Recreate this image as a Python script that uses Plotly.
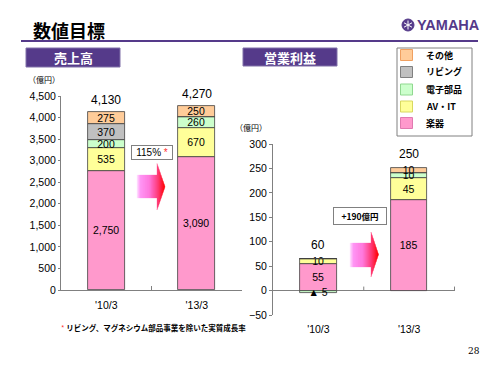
import plotly.graph_objects as go

W, H = 500, 375

# ---------------- data ----------------
categories = ["'10/3", "'13/3"]
segments = ["楽器", "AV・IT", "電子部品", "リビング", "その他"]

sales_gakki = [2750, 3090]
sales_avit = [535, 670]
sales_denshi = [200, 260]
sales_living = [370, 0]
sales_other = [275, 250]

op_gakki = [55, 185]
op_avit = [10, 45]
op_denshi = [-5, 10]
op_living = [0, 0]
op_other = [0, 10]

sales_ticks = [0, 500, 1000, 1500, 2000, 2500, 3000, 3500, 4000, 4500]
op_ticks = [-50, 0, 50, 100, 150, 200, 250, 300]

sales_growth_label = "115%"
op_growth_label = "+190億円"
footnote = "リビング、マグネシウム部品事業を除いた実質成長率"

# ---------------- style ----------------
colors = ["#FF99CC", "#FFFF99", "#CCFFCC", "#C0C0C0", "#FFCC99"]
swatch_borders = ["#E07AB0", "#D8D860", "#90D890", "#808080", "#F0A060"]
PURPLE = "#553A8A"
NUM = "Liberation Sans, Arial, sans-serif"
JP = "Noto Sans CJK JP, sans-serif"


def X(px):
    return px / W


def Y(py):
    return 1 - py / H


def fmt(v):
    if v == 0:
        return ""
    if v < 0:
        return "▲ " + f"{abs(v):,}"
    return f"{v:,}"


fig = go.Figure()

sales_series = [sales_gakki, sales_avit, sales_denshi, sales_living, sales_other]
op_series = [op_gakki, op_avit, op_denshi, op_living, op_other]

for name, vals, col in zip(segments, sales_series, colors):
    fig.add_trace(go.Bar(
        x=categories, y=vals, name=name, marker=dict(color=col, line=dict(color="#404040", width=0.8)),
        width=0.41, text=[fmt(v) for v in vals], textposition="inside", insidetextanchor="middle",
        textangle=0, textfont=dict(family=NUM, size=10.5, color="black"),
        xaxis="x", yaxis="y", showlegend=False, hoverinfo="skip", cliponaxis=False))

for name, vals, col in zip(segments, op_series, colors):
    fig.add_trace(go.Bar(
        x=categories, y=vals, name=name, marker=dict(color=col, line=dict(color="#404040", width=0.8)),
        width=0.4, text=[fmt(v) for v in vals], textposition="inside", insidetextanchor="middle",
        textangle=0, textfont=dict(family=NUM, size=10.5, color="black"),
        xaxis="x2", yaxis="y2", showlegend=False, hoverinfo="skip", cliponaxis=False))

sales_tot = [sum(s[i] for s in sales_series) for i in range(len(categories))]
op_tot = [sum(s[i] for s in op_series) for i in range(len(categories))]
op_top = [sum(max(s[i], 0) for s in op_series) for i in range(len(categories))]

annotations = []
for c, t in zip(categories, sales_tot):
    annotations.append(dict(x=c, y=t, xref="x", yref="y", text=f"{t:,}", showarrow=False,
                            yanchor="bottom", yshift=3, font=dict(family=NUM, size=12, color="black")))
for c, t, top in zip(categories, op_tot, op_top):
    annotations.append(dict(x=c, y=top, xref="x2", yref="y2", text=f"{t:,}", showarrow=False,
                            yanchor="bottom", yshift=5, font=dict(family=NUM, size=12, color="black")))

# titles & labels
annotations += [
    dict(x=X(31), y=Y(30), xref="paper", yref="paper", text="<b>数値目標</b>", showarrow=False,
         xanchor="left", yanchor="middle", font=dict(family=JP, size=18, color="black")),
    dict(x=X(73), y=Y(57.5), xref="paper", yref="paper", text="<b>売上高</b>", showarrow=False,
         xanchor="center", yanchor="middle", font=dict(family=JP, size=13, color="white")),
    dict(x=X(290), y=Y(57), xref="paper", yref="paper", text="<b>営業利益</b>", showarrow=False,
         xanchor="center", yanchor="middle", font=dict(family=JP, size=13, color="white")),
    dict(x=X(26), y=Y(79), xref="paper", yref="paper", text="（億円）", showarrow=False,
         xanchor="left", yanchor="middle", font=dict(family=JP, size=8, color="black")),
    dict(x=X(233), y=Y(127), xref="paper", yref="paper", text="（億円）", showarrow=False,
         xanchor="left", yanchor="middle", font=dict(family=JP, size=8, color="black")),
    dict(x=X(151.5), y=Y(152.5), xref="paper", yref="paper",
         text=sales_growth_label + " <span style='color:#FF3333'>*</span>", showarrow=False,
         xanchor="center", yanchor="middle", font=dict(family=NUM, size=10, color="black"),
         bgcolor="white", bordercolor="#808080", borderwidth=1, borderpad=1, width=38),
    dict(x=X(359.5), y=Y(216), xref="paper", yref="paper", text="<b>" + op_growth_label + "</b>",
         showarrow=False, xanchor="center", yanchor="middle",
         font=dict(family=JP, size=8.5, color="black"),
         bgcolor="white", bordercolor="#808080", borderwidth=1, borderpad=2, width=48),
    dict(x=X(59), y=Y(327), xref="paper", yref="paper",
         text="<span style='color:#FF3333'>*</span> <b>" + footnote + "</b>", showarrow=False,
         xanchor="left", yanchor="middle", font=dict(family=JP, size=7.5, color="black")),
    dict(x=X(482), y=Y(351), xref="paper", yref="paper", text="28", showarrow=False,
         xanchor="right", yanchor="middle", font=dict(family="DejaVu Serif, serif", size=9, color="black")),
    dict(x=X(415), y=Y(25), xref="paper", yref="paper", text="<b>YAMAHA</b>", showarrow=False,
         xanchor="left", yanchor="middle", font=dict(family=NUM, size=14.5, color=PURPLE)),
]

shapes = [
    # title rule
    dict(type="line", xref="paper", yref="paper", x0=X(21), x1=X(478), y0=Y(41), y1=Y(41),
         line=dict(color=PURPLE, width=2)),
    # header boxes
    dict(type="rect", xref="paper", yref="paper", x0=X(26), x1=X(120), y0=Y(48), y1=Y(67),
         fillcolor=PURPLE, line=dict(color="#8070A8", width=1)),
    dict(type="rect", xref="paper", yref="paper", x0=X(243), x1=X(337), y0=Y(48), y1=Y(66),
         fillcolor=PURPLE, line=dict(color="#8070A8", width=1)),
    # logo
    dict(type="circle", xref="paper", yref="paper", x0=X(402), x1=X(414), y0=Y(19), y1=Y(31),
         fillcolor=PURPLE, line=dict(color=PURPLE, width=1)),
    # legend box
    dict(type="rect", xref="paper", yref="paper", x0=X(397), x1=X(472), y0=Y(48), y1=Y(136),
         fillcolor="white", line=dict(color="#808080", width=1)),
]

# logo tuning-fork spokes
for dx0, dy0, dx1, dy1 in [(0, -4.5, 0, 4.5), (-4, -2.2, 4, 2.2), (-4, 2.2, 4, -2.2)]:
    shapes.append(dict(type="line", xref="paper", yref="paper", x0=X(408 + dx0), x1=X(408 + dx1),
                       y0=Y(25 + dy0), y1=Y(25 + dy1), line=dict(color="white", width=1)))

# manual legend (top to bottom: reversed stacking order)
leg_rows = [55, 72, 89.5, 106.5, 123]
for i, py in enumerate(leg_rows):
    k = len(segments) - 1 - i
    shapes.append(dict(type="rect", xref="paper", yref="paper", x0=X(400.5), x1=X(412.5),
                       y0=Y(py - 5.5), y1=Y(py + 5.5), fillcolor=colors[k],
                       line=dict(color=swatch_borders[k], width=1)))
    annotations.append(dict(x=X(424), y=Y(py), xref="paper", yref="paper", text="<b>" + segments[k] + "</b>",
                            showarrow=False, xanchor="left", yanchor="middle",
                            font=dict(family=JP, size=9, color="black")))


# gradient arrows
def lerp(c1, c2, t):
    return tuple(round(a + (b - a) * t) for a, b in zip(c1, c2))


stops = [(0.0, (255, 230, 255)), (0.12, (255, 150, 245)), (0.45, (255, 120, 220)),
         (0.75, (255, 60, 120)), (1.0, (255, 0, 0))]


def grad(t):
    for (t0, c0), (t1, c1) in zip(stops[:-1], stops[1:]):
        if t <= t1:
            return lerp(c0, c1, (t - t0) / (t1 - t0))
    return stops[-1][1]


def arrow(x0, xh, xt, b0, b1, h0, h1, step=1.0):
    cy = (h0 + h1) / 2
    out = []
    xs = []
    x = x0
    while x < xh - 1e-9:
        xs.append(x)
        x += step
    xs.append(xh)
    x = xh
    while x < xt - 1e-9:
        x = min(x + step, xt)
        xs.append(x)
    for a, b in zip(xs[:-1], xs[1:]):
        t = ((a + b) / 2 - x0) / (xt - x0)
        r, g, bl = grad(t)
        col = f"rgb({r},{g},{bl})"
        if b <= xh + 1e-9:
            pts = [(a, b0), (b, b0), (b, b1), (a, b1)]
        else:
            ha = (h1 - h0) / 2 * (xt - a) / (xt - xh)
            hb = (h1 - h0) / 2 * (xt - b) / (xt - xh)
            pts = [(a, cy - ha), (b, cy - hb), (b, cy + hb), (a, cy + ha)]
        path = "M " + " L ".join(f"{X(px):.5f},{Y(py):.5f}" for px, py in pts) + " Z"
        out.append(dict(type="path", xref="paper", yref="paper", path=path, fillcolor=col,
                        line=dict(width=0.3, color=col), layer="above"))
    return out


shapes += arrow(137, 157, 165, 175, 198, 163.5, 210)
shapes += arrow(350, 371, 378.5, 243, 267, 232, 277)

# tick marks on right chart's zero line
for xb in [0.5, 1.5]:
    shapes.append(dict(type="line", xref="x2", yref="y2", x0=xb, x1=xb, y0=0, y1=4,
                       ysizemode="pixel", yanchor=0, line=dict(color="#808080", width=1)))

axis_font = dict(family=NUM, size=10.5, color="black")

fig.update_layout(
    template="none",
    width=W, height=H, autosize=False,
    margin=dict(l=0, r=0, t=0, b=0, pad=0),
    paper_bgcolor="white", plot_bgcolor="rgba(0,0,0,0)",
    barmode="relative", bargap=0,
    showlegend=False,
    uniformtext=dict(minsize=10.5, mode="show"),
    xaxis=dict(domain=[X(61), X(242)], anchor="y", type="category", showline=True, automargin=False,
               linecolor="#808080", linewidth=1, ticks="inside", tickson="boundaries", ticklen=4,
               tickcolor="#808080", showgrid=False, tickfont=axis_font, fixedrange=True,
               ticklabelstandoff=5),
    yaxis=dict(domain=[Y(290), Y(96)], anchor="x", range=[0, 4500], tickvals=sales_ticks, automargin=False,
               tickformat=",d", showline=True, linecolor="#808080", linewidth=1, ticks="outside",
               ticklen=2, tickcolor="#808080", showgrid=False, zeroline=False, tickfont=axis_font,
               fixedrange=True),
    xaxis2=dict(domain=[X(273), X(455)], anchor="y2", type="category", showline=False, ticks="",
                automargin=False, showgrid=False, tickfont=axis_font, fixedrange=True,
                ticklabelstandoff=6),
    yaxis2=dict(domain=[Y(315), Y(144)], anchor="x2", range=[-50, 300], tickvals=op_ticks,
                automargin=False, showline=True, linecolor="#808080", linewidth=1, ticks="outside",
                ticklen=3, tickcolor="#808080", showgrid=False, zeroline=True, zerolinecolor="#808080",
                zerolinewidth=1, tickfont=axis_font, fixedrange=True),
    annotations=annotations,
    shapes=shapes,
)

fig.write_html("out.html", config={"displayModeBar": False},
               post_script="document.body.style.margin='0px';")
